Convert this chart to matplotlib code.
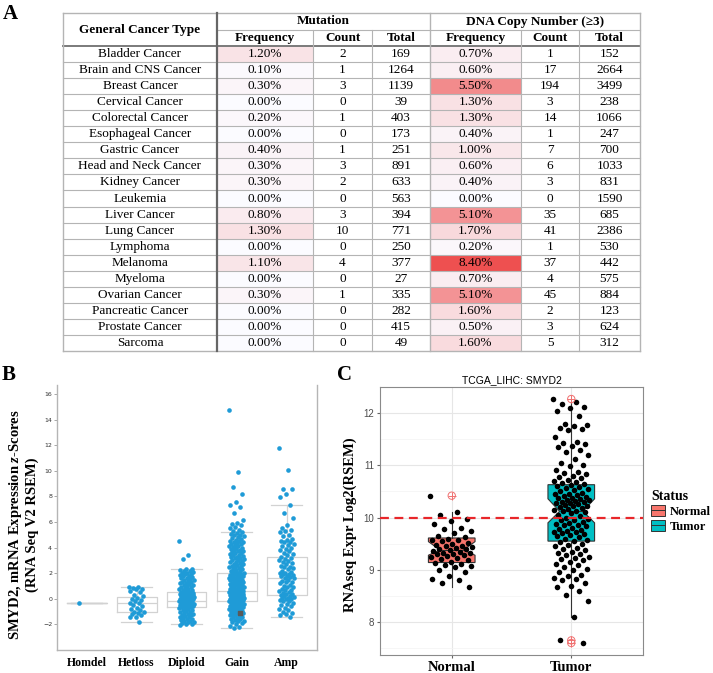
import matplotlib
matplotlib.use('Agg')
import matplotlib.pyplot as plt
import numpy as np
from matplotlib.patches import Rectangle, Patch
from matplotlib.lines import Line2D
from matplotlib.colors import LinearSegmentedColormap

# %% data -- panel A table
cancer_types = ['Bladder Cancer', 'Brain and CNS Cancer', 'Breast Cancer', 'Cervical Cancer',
                'Colorectal Cancer', 'Esophageal Cancer', 'Gastric Cancer', 'Head and Neck Cancer',
                'Kidney Cancer', 'Leukemia', 'Liver Cancer', 'Lung Cancer', 'Lymphoma', 'Melanoma',
                'Myeloma', 'Ovarian Cancer', 'Pancreatic Cancer', 'Prostate Cancer', 'Sarcoma']
mut_freq = [1.2, 0.1, 0.3, 0.0, 0.2, 0.0, 0.4, 0.3, 0.3, 0.0, 0.8, 1.3, 0.0, 1.1, 0.0, 0.3, 0.0, 0.0, 0.0]
mut_count = [2, 1, 3, 0, 1, 0, 1, 3, 2, 0, 3, 10, 0, 4, 0, 1, 0, 0, 0]
mut_total = [169, 1264, 1139, 39, 403, 173, 251, 891, 633, 563, 394, 771, 250, 377, 27, 335, 282, 415, 49]
cna_freq = [0.7, 0.6, 5.5, 1.3, 1.3, 0.4, 1.0, 0.6, 0.4, 0.0, 5.1, 1.7, 0.2, 8.4, 0.7, 5.1, 1.6, 0.5, 1.6]
cna_count = [1, 17, 194, 3, 14, 1, 7, 6, 3, 0, 35, 41, 1, 37, 4, 45, 2, 3, 5]
cna_total = [152, 2664, 3499, 238, 1066, 247, 700, 1033, 831, 1590, 685, 2386, 530, 442, 575, 884, 123, 624, 312]

# %% data -- panel B (cBioPortal, z-scores by copy number)
cn_groups = ['Homdel', 'Hetloss', 'Diploid', 'Gain', 'Amp']
homdel = [-0.35]
hetloss = [0.95, 0.9, 0.85, 0.8, 0.75, 0.6, 0.5, 0.3, 0.2, 0.1, 0.0, -0.1, -0.2, -0.3, -0.35, -0.45,
           -0.6, -0.7, -0.8, -0.9, -1.0, -1.05, -1.1, -1.2, -1.3, -1.4, -1.45, -1.8]
diploid = [4.55, 3.4, 3.1, 2.35, 2.3, 2.25, 2.2, 2.15, 2.1, 2.05, 2.0, 1.95, 1.9, 1.85, 1.8, 1.75, 1.7,
           1.65, 1.6, 1.55, 1.5, 1.45, 1.4, 1.35, 1.3, 1.25, 1.2, 1.15, 1.1, 1.05, 1.0, 0.95, 0.9, 0.85,
           0.8, 0.75, 0.7, 0.65, 0.6, 0.55, 0.52, 0.5, 0.47, 0.45, 0.42, 0.4, 0.37, 0.35, 0.32, 0.3, 0.27,
           0.25, 0.22, 0.2, 0.17, 0.15, 0.12, 0.1, 0.07, 0.05, 0.02, 0.0, -0.02, -0.05, -0.07, -0.1,
           -0.12, -0.15, -0.17, -0.2, -0.22, -0.25, -0.27, -0.3, -0.32, -0.35, -0.37, -0.4, -0.42, -0.45,
           -0.47, -0.5, -0.52, -0.55, -0.57, -0.6, -0.62, -0.65, -0.7, -0.75, -0.8, -0.85, -0.9, -0.95,
           -1.0, -1.05, -1.1, -1.15, -1.2, -1.25, -1.3, -1.35, -1.4, -1.45, -1.5, -1.55, -1.6, -1.65,
           -1.7, -1.75, -1.8, -1.85, -1.9, -1.95, -2.0, -2.05]
gain = [14.75, 9.9, 8.7, 8.15, 7.55, 7.3, 7.2, 6.7, 6.15, 5.95, 5.85, 5.75, 5.6, 5.5, 5.4, 5.3, 5.25,
        5.15, 5.1, 5.0, 4.95, 4.9, 4.8, 4.75, 4.7, 4.6, 4.55, 4.5, 4.45, 4.4, 4.35, 4.3, 4.25, 4.2, 4.15,
        4.1, 4.05, 4.0, 3.95, 3.9, 3.85, 3.8, 3.75, 3.7, 3.65, 3.6, 3.55, 3.5, 3.45, 3.4, 3.35, 3.3,
        3.25, 3.2, 3.15, 3.1, 3.05, 3.0, 2.95, 2.9, 2.85, 2.8, 2.75, 2.7, 2.65, 2.6, 2.55, 2.5, 2.45,
        2.4, 2.35, 2.3, 2.25, 2.2, 2.15, 2.1, 2.05, 2.0, 1.96, 1.93, 1.9, 1.87, 1.84, 1.8, 1.77, 1.74,
        1.7, 1.67, 1.64, 1.6, 1.57, 1.54, 1.5, 1.47, 1.44, 1.4, 1.37, 1.34, 1.3, 1.27, 1.24, 1.2, 1.17,
        1.14, 1.1, 1.07, 1.04, 1.0, 0.97, 0.94, 0.9, 0.87, 0.84, 0.8, 0.77, 0.74, 0.7, 0.67, 0.64, 0.6,
        0.58, 0.56, 0.54, 0.52, 0.5, 0.48, 0.46, 0.44, 0.42, 0.4, 0.38, 0.36, 0.34, 0.32, 0.3, 0.28,
        0.26, 0.24, 0.22, 0.2, 0.18, 0.16, 0.14, 0.12, 0.1, 0.08, 0.06, 0.04, 0.02, 0.0, -0.02, -0.04,
        -0.06, -0.08, -0.1, -0.12, -0.14, -0.16, -0.18, -0.2, -0.23, -0.26, -0.3, -0.33, -0.36, -0.4,
        -0.43, -0.46, -0.5, -0.53, -0.56, -0.6, -0.63, -0.66, -0.7, -0.73, -0.76, -0.8, -0.83, -0.86,
        -0.9, -0.93, -0.96, -1.0, -1.03, -1.06, -1.1, -1.13, -1.16, -1.2, -1.25, -1.3, -1.35, -1.4,
        -1.45, -1.5, -1.55, -1.6, -1.65, -1.7, -1.75, -1.8, -1.9, -2.0, -2.1, -2.2, -2.25]
amp = [11.75, 10.05, 8.6, 8.55, 8.15, 7.95, 7.3, 6.7, 6.3, 5.75, 5.55, 5.4, 5.3, 5.2, 5.0, 4.9, 4.7,
       4.6, 4.5, 4.45, 4.4, 4.3, 4.2, 4.1, 4.0, 3.9, 3.8, 3.7, 3.6, 3.5, 3.4, 3.3, 3.2, 3.1, 3.0, 2.95,
       2.9, 2.8, 2.7, 2.6, 2.5, 2.45, 2.4, 2.3, 2.2, 2.1, 2.05, 2.0, 1.95, 1.9, 1.85, 1.8, 1.75, 1.7,
       1.65, 1.6, 1.5, 1.4, 1.35, 1.3, 1.2, 1.1, 1.0, 0.95, 0.9, 0.8, 0.7, 0.65, 0.6, 0.5, 0.45, 0.4,
       0.35, 0.3, 0.25, 0.2, 0.15, 0.1, 0.05, 0.0, -0.05, -0.1, -0.15, -0.2, -0.3, -0.4, -0.5, -0.6,
       -0.7, -0.8, -0.9, -1.0, -1.1, -1.2, -1.3, -1.4]
gain_highlight = -1.1
# box stats: whislo, q1, med, q3, whishi
box_b = [(-0.35, -0.35, -0.35, -0.35, -0.35),
         (-1.8, -1.05, -0.3, 0.15, 0.95),
         (-2.0, -0.65, -0.15, 0.55, 2.3),
         (-2.25, -0.2, 0.6, 2.0, 5.25),
         (-1.4, 0.3, 1.65, 3.3, 7.3)]

# %% data -- panel C (TCGA LIHC)
status = ['Normal', 'Tumor']
normal = [10.42, 10.1, 10.05, 9.98, 9.93, 9.87, 9.8, 9.78, 9.75, 9.7, 9.65, 9.62, 9.6, 9.58, 9.57,
          9.55, 9.52, 9.5, 9.48, 9.46, 9.45, 9.43, 9.42, 9.4, 9.4, 9.38, 9.37, 9.35, 9.33, 9.32, 9.3,
          9.3, 9.28, 9.27, 9.25, 9.22, 9.2, 9.18, 9.15, 9.13, 9.12, 9.1, 9.08, 9.05, 9.0, 8.95, 8.88,
          8.82, 8.8, 8.74, 8.67]
tumor = [12.27, 12.22, 12.18, 12.12, 12.1, 12.05, 11.95, 11.8, 11.78, 11.75, 11.72, 11.7, 11.68,
         11.55, 11.45, 11.43, 11.4, 11.38, 11.35, 11.3, 11.25, 11.2, 11.12, 11.05, 11.0, 10.98, 10.92,
         10.88, 10.85, 10.83, 10.8, 10.78, 10.75, 10.72, 10.7, 10.68, 10.66, 10.64, 10.62, 10.6,
         10.58, 10.56, 10.55, 10.52, 10.5, 10.48, 10.46, 10.45, 10.43, 10.42, 10.4, 10.38, 10.37,
         10.35, 10.34, 10.33, 10.32, 10.3, 10.3, 10.28, 10.27, 10.26, 10.25, 10.23, 10.22, 10.2,
         10.18, 10.17, 10.15, 10.13, 10.12, 10.1, 10.08, 10.05, 10.03, 10.0, 9.98, 9.96, 9.95, 9.92,
         9.9, 9.88, 9.86, 9.85, 9.83, 9.8, 9.78, 9.76, 9.75, 9.73, 9.72, 9.7, 9.68, 9.67, 9.65, 9.63,
         9.6, 9.58, 9.56, 9.53, 9.5, 9.47, 9.45, 9.42, 9.4, 9.38, 9.35, 9.32, 9.3, 9.28, 9.25, 9.22,
         9.2, 9.18, 9.15, 9.12, 9.1, 9.05, 9.02, 9.0, 8.95, 8.9, 8.88, 8.85, 8.82, 8.8, 8.75, 8.7,
         8.68, 8.6, 8.52, 8.4, 8.1, 7.65, 7.6]
# whislo, q1, med, q3, whishi, notch low, notch high
box_c = [(8.67, 9.14, 9.38, 9.61, 10.1, 9.28, 9.54),
         (8.1, 9.55, 10.12, 10.63, 12.22, 9.9, 10.36)]
outliers_c = [[10.42], [12.27, 7.65, 7.6]]
cutoff = 10.0

# %% figure
plt.rcParams['font.family'] = 'Liberation Serif'
plt.rcParams['mathtext.fontset'] = 'custom'
plt.rcParams['mathtext.it'] = 'Liberation Serif:italic:bold'

W, H = 713, 673
fig = plt.figure(figsize=(W / 100, H / 100), dpi=100)


def px_axes(l, t, r, b):
    return fig.add_axes([l / W, 1 - b / H, (r - l) / W, (b - t) / H])


def jitter(n, half):
    return ((np.arange(n) * 0.618034) % 1 - 0.5) * 2 * half


# %% panel A: table drawn on a pixel canvas
ax_t = fig.add_axes([0, 0, 1, 1])
ax_t.set_xlim(0, W)
ax_t.set_ylim(H, 0)
ax_t.axis('off')

col_x = [63, 217, 313, 372, 430, 521, 579, 640]
y_top, y_mid, y_head, y_bot = 13, 30, 46, 351
row_h = (y_bot - y_head) / len(cancer_types)
cmap = LinearSegmentedColormap.from_list('freq', ['#fbfbff', '#ee5050'])
fs = 9.5

for i, name in enumerate(cancer_types):
    y0 = y_head + i * row_h
    yc = y0 + row_h / 2
    for ci, v in ((1, mut_freq[i]), (4, cna_freq[i])):
        ax_t.add_patch(Rectangle((col_x[ci], y0), col_x[ci + 1] - col_x[ci], row_h,
                                 fc=cmap(v / 8.4), ec='none', zorder=0))
    cells = [name, f'{mut_freq[i]:.2f}%', str(mut_count[i]), str(mut_total[i]),
             f'{cna_freq[i]:.2f}%', str(cna_count[i]), str(cna_total[i])]
    for ci, txt in enumerate(cells):
        ax_t.text((col_x[ci] + col_x[ci + 1]) / 2, yc, txt, ha='center', va='center', fontsize=fs)

grid_c = '#b4b4b4'
for k in range(1, len(cancer_types)):
    y = y_head + k * row_h
    ax_t.plot([col_x[0], col_x[-1]], [y, y], color=grid_c, lw=0.8)
ax_t.plot([col_x[0], col_x[-1]], [y_top, y_top], color=grid_c, lw=1.0)
ax_t.plot([col_x[0], col_x[-1]], [y_bot, y_bot], color=grid_c, lw=1.0)
ax_t.plot([col_x[1], col_x[-1]], [y_mid, y_mid], color=grid_c, lw=0.8)
ax_t.plot([col_x[0], col_x[-1]], [y_head, y_head], color='#7a7a7a', lw=1.4)
for x in (col_x[0], col_x[4], col_x[-1]):
    ax_t.plot([x, x], [y_top, y_bot], color=grid_c, lw=1.0)
for x in (col_x[2], col_x[3], col_x[5], col_x[6]):
    ax_t.plot([x, x], [y_mid, y_bot], color=grid_c, lw=0.8)
ax_t.plot([col_x[1], col_x[1]], [y_top, y_bot], color='#666666', lw=1.6)

ax_t.text((col_x[0] + col_x[1]) / 2, (y_top + y_head) / 2, 'General Cancer Type',
          ha='center', va='center', fontsize=fs, fontweight='bold')
ax_t.text((col_x[1] + col_x[4]) / 2, (y_top + y_mid) / 2, 'Mutation',
          ha='center', va='center', fontsize=fs, fontweight='bold')
ax_t.text((col_x[4] + col_x[7]) / 2, (y_top + y_mid) / 2, 'DNA Copy Number (≥3)',
          ha='center', va='center', fontsize=fs, fontweight='bold')
for ci, txt in enumerate(['Frequency', 'Count', 'Total'] * 2, start=1):
    ax_t.text((col_x[ci] + col_x[ci + 1]) / 2, (y_mid + y_head) / 2, txt,
              ha='center', va='center', fontsize=fs, fontweight='bold')

ax_t.text(10, 14, 'A', ha='center', va='center', fontsize=15, fontweight='bold')
ax_t.text(9, 375, 'B', ha='center', va='center', fontsize=15, fontweight='bold')
ax_t.text(344, 375, 'C', ha='center', va='center', fontsize=15, fontweight='bold')

# %% panel B
axB = px_axes(57, 385, 317, 650)
groups = [homdel, hetloss, diploid, gain, amp]
stats_b = [dict(whislo=s[0], q1=s[1], med=s[2], q3=s[3], whishi=s[4], fliers=[]) for s in box_b]
light = dict(color='#d2d2d2', lw=0.9)
axB.bxp(stats_b, positions=range(5), widths=0.8, capwidths=0.62, showfliers=False,
        boxprops=light, whiskerprops=light, capprops=light, medianprops=light, zorder=1,
        manage_ticks=False)
for i, vals in enumerate(groups):
    vals = np.array(vals)
    axB.scatter(i + jitter(len(vals), 0.15), vals, s=11, color='#1f9bd7', lw=0, zorder=2)
axB.scatter([3.07], [gain_highlight], marker='s', s=12, color='#5a5a5a', zorder=3)

axB.set_xlim(-0.59, 4.61)
axB.set_ylim(-4, 16.7)
axB.set_yticks(np.arange(-2, 17, 2))
axB.set_xticks(range(5))
axB.set_xticklabels(cn_groups, fontweight='bold', fontsize=8.5)
axB.tick_params(axis='y', labelsize=4.5, length=2, width=0.6, color='#999999', pad=1.5,
                labelcolor='#333333')
axB.tick_params(axis='x', length=0, pad=5)
for lab in axB.get_yticklabels():
    lab.set_family('DejaVu Sans')
for side in ('left', 'bottom', 'right'):
    axB.spines[side].set_color('#b5b5b5')
    axB.spines[side].set_linewidth(1.0)
axB.spines['top'].set_visible(False)
fig.text(23 / W, 1 - 525 / H, 'SMYD2, mRNA Expression $z$-Scores\n(RNA Seq V2 RSEM)',
         rotation=90, ha='center', va='center', fontsize=10.5, fontweight='bold', linespacing=1.1)

# %% panel C
axC = px_axes(380, 387, 643, 655)
stats_c = [dict(whislo=s[0], q1=s[1], med=s[2], q3=s[3], whishi=s[4], cilo=s[5], cihi=s[6], fliers=[])
           for s in box_c]
dark = dict(color='#333333', lw=0.8)
bp = axC.bxp(stats_c, positions=[1, 2], widths=0.39, shownotches=True, patch_artist=True,
             showfliers=False, showcaps=False, boxprops=dict(edgecolor='#333333', lw=0.8),
             whiskerprops=dark, medianprops=dark, zorder=2, manage_ticks=False)
for patch, fc in zip(bp['boxes'], ['#F8766D', '#00BFC4']):
    patch.set_facecolor(fc)

for i, (vals, half) in enumerate([(normal, 0.18), (tumor, 0.15)]):
    vals = np.array(vals)
    axC.scatter(i + 1 + jitter(len(vals), half), vals, s=16, color='black', lw=0, zorder=3)
    out = outliers_c[i]
    axC.scatter([i + 1] * len(out), out, s=28, facecolor='none', edgecolor='#f07070', lw=0.7, zorder=4)
    axC.scatter([i + 1] * len(out), out, s=28, marker='+', color='#f07070', lw=0.7, zorder=4)

axC.axhline(cutoff, color='#e8262a', ls=(0, (4, 2.5)), lw=1.6, zorder=5)

axC.set_xlim(0.4, 2.6)
axC.set_ylim(7.37, 12.5)
axC.set_yticks([8, 9, 10, 11, 12])
axC.set_yticks(np.arange(7.5, 12.6, 1.0), minor=True)
axC.set_xticks([1, 2])
axC.set_xticklabels(status, fontweight='bold', fontsize=10.5)
axC.grid(which='major', color='#e6e6e6', lw=0.8, zorder=0)
axC.grid(which='minor', axis='y', color='#f3f3f3', lw=0.5, zorder=0)
axC.set_axisbelow(True)
axC.set_title('TCGA_LIHC: SMYD2', fontsize=7.5, family='Liberation Sans', pad=3)
axC.tick_params(axis='x', length=2, color='#666666', pad=2)
axC.tick_params(axis='y', which='major', length=2, color='#666666', labelsize=7,
                labelcolor='#4d4d4d', pad=2)
axC.tick_params(axis='y', which='minor', length=0)
for lab in axC.get_yticklabels():
    lab.set_family('Liberation Sans')
for sp in axC.spines.values():
    sp.set_color('#8a8a8a')
    sp.set_linewidth(0.8)
fig.text(350 / W, 1 - 525 / H, 'RNAseq Expr Log2(RSEM)', rotation=90, ha='center', va='center',
         fontsize=10.5, fontweight='bold')

handles = [(Patch(facecolor=c, edgecolor='#333333', lw=0.7), Line2D([], [], color='#333333', lw=0.7))
           for c in ['#F8766D', '#00BFC4']]
fig.legend(handles, status, title='Status', loc='upper left', bbox_to_anchor=(651 / W, 1 - 490 / H),
           frameon=False, prop=dict(family='Liberation Serif', weight='bold', size=9),
           title_fontproperties=dict(family='Liberation Serif', weight='bold', size=10),
           handlelength=1.1, handleheight=1.0, handletextpad=0.4, labelspacing=0.15,
           borderpad=0, borderaxespad=0, alignment='left')

fig.savefig('out.png', dpi=100)
